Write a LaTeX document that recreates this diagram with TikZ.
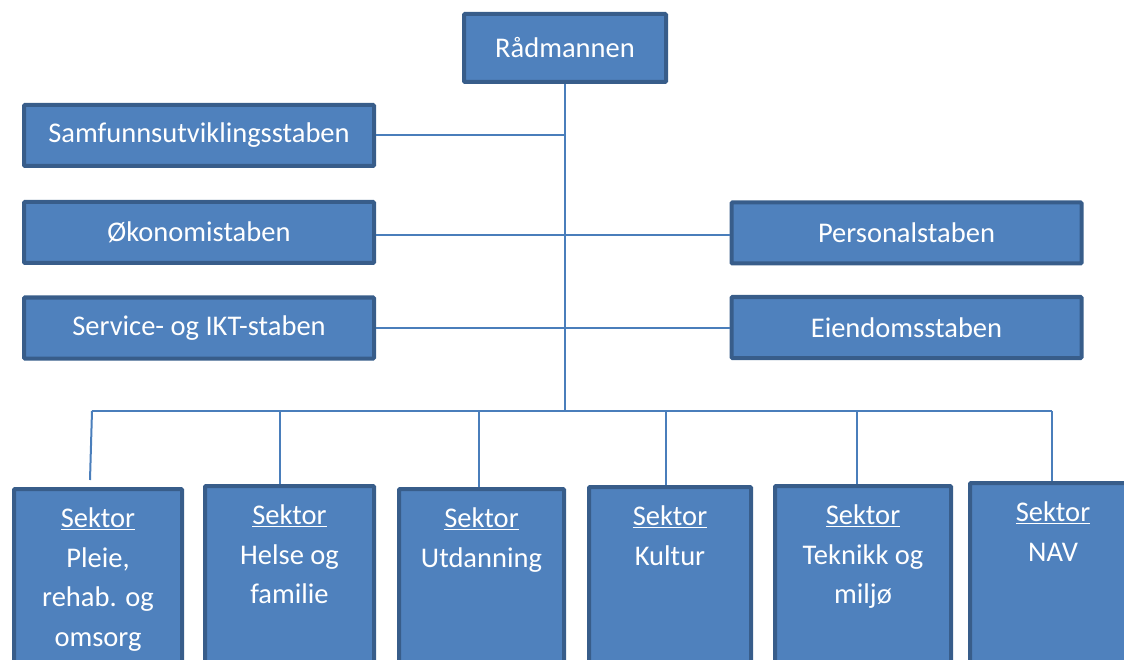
\documentclass[tikz,border=0pt]{standalone}
\usepackage{fontspec}
\setmainfont{Carlito}
\definecolor{boksblaa}{HTML}{4F81BD}
\definecolor{kantblaa}{HTML}{385D8A}
\definecolor{linjeblaa}{HTML}{4A7EBB}
\newcommand{\sektortekst}[1]{\parbox[t][177pt][t]{150pt}{\centering\underline{Sektor}\\#1}}

\begin{document}
\begin{tikzpicture}[x=1pt,y=-1pt,
    boks/.style={draw=kantblaa,fill=boksblaa,line width=4pt,rounded corners=1pt,
                 text=white,font=\fontsize{28.5}{39.5}\selectfont},
    stab/.style={boks,minimum width=350pt,minimum height=61pt},
    sektorboks/.style={boks,anchor=north,inner xsep=2pt,inner ysep=19pt},
    linje/.style={draw=linjeblaa,line width=2pt}]
    \useasboundingbox (0,0) rectangle (1124,660);
    \clip (0,0) rectangle (1124,660);

    \node[boks,minimum width=202pt,minimum height=68pt] (rad) at (565,48) {Rådmannen};
    \node[stab] (samf) at (199,135.5) {Samfunnsutviklingsstaben};
    \node[stab] (okon) at (199,232.5) {Økonomistaben};
    \node[stab] (serv) at (199,328)   {Service- og IKT-staben};
    \node[stab] (pers) at (906.5,233) {Personalstaben};
    \node[stab] (eien) at (906.5,327.5) {Eiendomsstaben};

    \node[sektorboks,minimum width=168pt] (s1) at (98,487)    {\sektortekst{Pleie,\\rehab. og\\omsorg}};
    \node[sektorboks,minimum width=169pt] (s2) at (289.5,484) {\sektortekst{Helse og\\familie}};
    \node[sektorboks,minimum width=165pt] (s3) at (481.5,487) {\sektortekst{Utdanning}};
    \node[sektorboks,minimum width=162pt] (s4) at (670,485)   {\sektortekst{Kultur}};
    \node[sektorboks,minimum width=176pt] (s5) at (863,484)   {\sektortekst{Teknikk og\\miljø}};
    \node[sektorboks,minimum width=166pt] (s6) at (1053,481)  {\sektortekst{NAV}};

    \coordinate (buss) at (565,411);
    \coordinate (t1) at (92,411);
    \coordinate (t2) at (280,411);
    \coordinate (t3) at (479,411);
    \coordinate (t4) at (666,411);
    \coordinate (t5) at (857,411);
    \coordinate (t6) at (1052,411);
    \coordinate (e1) at (90,480);

    \draw[linje,line width=1.5pt] (rad) -- (buss);
    \draw[linje] (samf) -- (samf -| rad);
    \draw[linje] ([yshift=-2.5pt]okon.east) -- ([yshift=-2pt]pers.west);
    \draw[linje] (serv) -- (serv -| eien.west);
    \draw[linje] (t1) -- (t6);
    \draw[linje] (t1) -- (e1);
    \foreach \i in {2,...,6}
        \draw[linje] (t\i) -- (t\i |- s\i.north);
\end{tikzpicture}
\end{document}
